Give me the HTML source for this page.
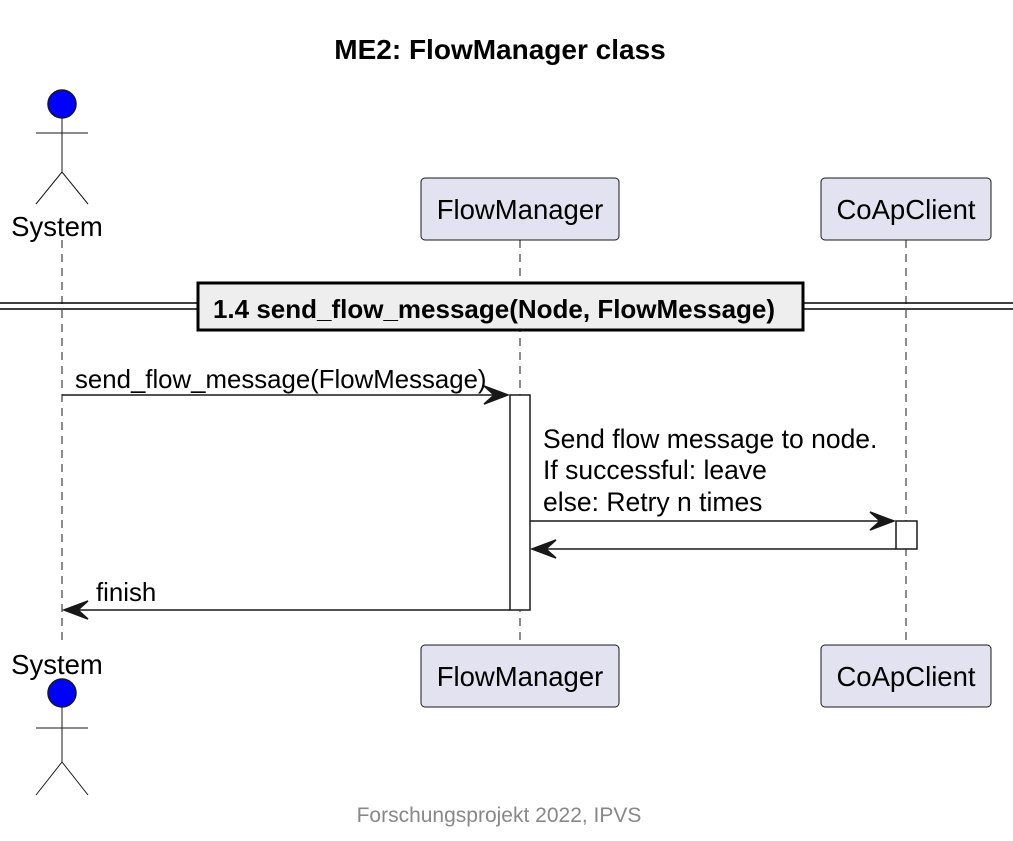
<!DOCTYPE html>
<html><head><meta charset="utf-8"><style>
html,body{margin:0;padding:0;background:#fff;}
svg{display:block;font-family:"Liberation Sans",Arial,sans-serif;}
</style></head><body>
<svg width="1013" height="841" viewBox="0 0 1013 841" xmlns="http://www.w3.org/2000/svg">
<text x="500" y="59" font-size="28" font-weight="bold" text-anchor="middle" fill="#000">ME2: FlowManager class</text>

<g stroke="#181818" stroke-width="1" stroke-dasharray="8,6">
<line x1="62" y1="240" x2="62" y2="645"/>
<line x1="520" y1="240" x2="520" y2="645"/>
<line x1="906" y1="240" x2="906" y2="645"/>
</g>

<g stroke="#181818" stroke-width="1" fill="none">
<circle cx="62" cy="104" r="14" fill="#0000ff" stroke-width="1.5"/>
<line x1="62" y1="118" x2="62" y2="172"/>
<line x1="36" y1="133" x2="88" y2="133"/>
<line x1="62" y1="172" x2="36" y2="204"/>
<line x1="62" y1="172" x2="88" y2="204"/>
</g>
<rect x="8" y="212" width="100" height="26" fill="#fff"/>
<text x="57" y="236" font-size="27.5" text-anchor="middle">System</text>

<rect x="8" y="650" width="100" height="26" fill="#fff"/>
<text x="57" y="674" font-size="27.5" text-anchor="middle">System</text>
<g stroke="#181818" stroke-width="1" fill="none">
<circle cx="62" cy="693" r="14" fill="#0000ff" stroke-width="1.5"/>
<line x1="62" y1="707" x2="62" y2="762"/>
<line x1="36" y1="728" x2="88" y2="728"/>
<line x1="62" y1="762" x2="36" y2="795"/>
<line x1="62" y1="762" x2="88" y2="795"/>
</g>

<g fill="#E2E2F0" stroke="#181818" stroke-width="1">
<rect x="421" y="178" width="198" height="62" rx="4"/>
<rect x="821" y="178" width="170" height="62" rx="4"/>
<rect x="421" y="645" width="198" height="62" rx="4"/>
<rect x="821" y="645" width="170" height="62" rx="4"/>
</g>
<g font-size="27.5" text-anchor="middle">
<text x="520" y="219">FlowManager</text>
<text x="906" y="219">CoApClient</text>
<text x="520" y="686">FlowManager</text>
<text x="906" y="686">CoApClient</text>
</g>

<g stroke="#000" stroke-width="1.5">
<line x1="0" y1="303" x2="1013" y2="303"/>
<line x1="0" y1="309" x2="1013" y2="309"/>
</g>
<rect x="198" y="283" width="605" height="47" fill="#EEEEEE" stroke="#000" stroke-width="3"/>
<text x="494" y="318" font-size="26" font-weight="bold" text-anchor="middle">1.4 send_flow_message(Node, FlowMessage)</text>

<rect x="510" y="395" width="20" height="215" fill="#fff" stroke="#181818" stroke-width="1.5"/>
<rect x="896" y="521" width="21" height="28" fill="#fff" stroke="#181818" stroke-width="1.5"/>

<g stroke="#181818" stroke-width="1.5" fill="#181818">
<line x1="62" y1="395" x2="506" y2="395"/>
<polygon points="508,395 484,386 494,395 484,404"/>
<line x1="530" y1="521" x2="892" y2="521"/>
<polygon points="894,521 870,512 880,521 870,530"/>
<line x1="896" y1="549" x2="534" y2="549"/>
<polygon points="532,549 556,540 546,549 556,558"/>
<line x1="510" y1="610" x2="66" y2="610"/>
<polygon points="64,610 88,601 78,610 88,619"/>
</g>

<g font-size="25.8" fill="#000">
<text x="75" y="388">send_flow_message(FlowMessage)</text>
<text x="543" y="448" font-size="26.5">Send flow message to node.</text>
<text x="543" y="479" font-size="26.5">If successful: leave</text>
<text x="543" y="511" font-size="26.5">else: Retry n times</text>
<text x="96" y="601">finish</text>
</g>

<text x="499" y="822" font-size="21" fill="#888" text-anchor="middle">Forschungsprojekt 2022, IPVS</text>
</svg>
</body></html>
